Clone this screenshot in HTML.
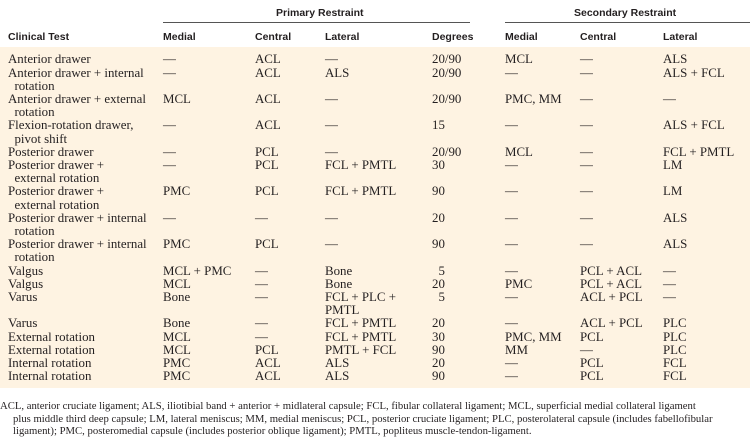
<!DOCTYPE html>
<html><head><meta charset="utf-8"><style>
body{margin:0;width:750px;height:442px;background:#fff;position:relative;overflow:hidden;color:#231f20;font-family:"Liberation Serif",serif}
.h{position:absolute;font-family:"Liberation Sans",sans-serif;font-weight:bold;font-size:10.5px;line-height:12px;white-space:nowrap}
.rule{position:absolute;height:1px;background:#555;top:22px}
.cream{position:absolute;left:0;top:47px;width:750px;height:341px;background:#fef3e2}
table{position:absolute;left:8px;top:53.4px;border-collapse:collapse;font-size:12.9px;line-height:13.2px}
td{padding:0;vertical-align:top;white-space:nowrap}
.fn{position:absolute;left:0;top:400px;width:750px;font-size:10.7px;line-height:12.5px;white-space:nowrap}
.fn div{padding-left:13px}
.fn div:first-child{padding-left:0}
</style></head><body>
<div class="cream"></div>
<div class="h" style="left:276px;top:7px">Primary Restraint</div>
<div class="h" style="left:574px;top:7px">Secondary Restraint</div>
<div class="rule" style="left:163px;width:307px"></div>
<div class="rule" style="left:505px;width:245px"></div>
<div class="h" style="left:8px;top:31px">Clinical Test</div>
<div class="h" style="left:163px;top:31px">Medial</div>
<div class="h" style="left:255px;top:31px">Central</div>
<div class="h" style="left:325px;top:31px">Lateral</div>
<div class="h" style="left:432px;top:31px">Degrees</div>
<div class="h" style="left:505px;top:31px">Medial</div>
<div class="h" style="left:580px;top:31px">Central</div>
<div class="h" style="left:663px;top:31px">Lateral</div>
<table>
<colgroup><col style="width:155px"><col style="width:92px"><col style="width:70px"><col style="width:107px"><col style="width:73px"><col style="width:75px"><col style="width:83px"><col style="width:87px"></colgroup>
<tr><td>Anterior drawer</td><td>—</td><td>ACL</td><td>—</td><td>20/90</td><td>MCL</td><td>—</td><td>ALS</td></tr>
<tr><td>Anterior drawer + internal<br>&nbsp;&nbsp;rotation</td><td>—</td><td>ACL</td><td>ALS</td><td>20/90</td><td>—</td><td>—</td><td>ALS + FCL</td></tr>
<tr><td>Anterior drawer + external<br>&nbsp;&nbsp;rotation</td><td>MCL</td><td>ACL</td><td>—</td><td>20/90</td><td>PMC, MM</td><td>—</td><td>—</td></tr>
<tr><td>Flexion-rotation drawer,<br>&nbsp;&nbsp;pivot shift</td><td>—</td><td>ACL</td><td>—</td><td>15</td><td>—</td><td>—</td><td>ALS + FCL</td></tr>
<tr><td>Posterior drawer</td><td>—</td><td>PCL</td><td>—</td><td>20/90</td><td>MCL</td><td>—</td><td>FCL + PMTL</td></tr>
<tr><td>Posterior drawer +<br>&nbsp;&nbsp;external rotation</td><td>—</td><td>PCL</td><td>FCL + PMTL</td><td>30</td><td>—</td><td>—</td><td>LM</td></tr>
<tr><td>Posterior drawer +<br>&nbsp;&nbsp;external rotation</td><td>PMC</td><td>PCL</td><td>FCL + PMTL</td><td>90</td><td>—</td><td>—</td><td>LM</td></tr>
<tr><td>Posterior drawer + internal<br>&nbsp;&nbsp;rotation</td><td>—</td><td>—</td><td>—</td><td>20</td><td>—</td><td>—</td><td>ALS</td></tr>
<tr><td>Posterior drawer + internal<br>&nbsp;&nbsp;rotation</td><td>PMC</td><td>PCL</td><td>—</td><td>90</td><td>—</td><td>—</td><td>ALS</td></tr>
<tr><td>Valgus</td><td>MCL + PMC</td><td>—</td><td>Bone</td><td>&nbsp;&nbsp;5</td><td>—</td><td>PCL + ACL</td><td>—</td></tr>
<tr><td>Valgus</td><td>MCL</td><td>—</td><td>Bone</td><td>20</td><td>PMC</td><td>PCL + ACL</td><td>—</td></tr>
<tr><td>Varus</td><td>Bone</td><td>—</td><td>FCL + PLC +<br>PMTL</td><td>&nbsp;&nbsp;5</td><td>—</td><td>ACL + PCL</td><td>—</td></tr>
<tr><td>Varus</td><td>Bone</td><td>—</td><td>FCL + PMTL</td><td>20</td><td>—</td><td>ACL + PCL</td><td>PLC</td></tr>
<tr><td>External rotation</td><td>MCL</td><td>—</td><td>FCL + PMTL</td><td>30</td><td>PMC, MM</td><td>PCL</td><td>PLC</td></tr>
<tr><td>External rotation</td><td>MCL</td><td>PCL</td><td>PMTL + FCL</td><td>90</td><td>MM</td><td>—</td><td>PLC</td></tr>
<tr><td>Internal rotation</td><td>PMC</td><td>ACL</td><td>ALS</td><td>20</td><td>—</td><td>PCL</td><td>FCL</td></tr>
<tr><td>Internal rotation</td><td>PMC</td><td>ACL</td><td>ALS</td><td>90</td><td>—</td><td>PCL</td><td>FCL</td></tr>
</table>
<div class="fn">
<div>ACL, anterior cruciate ligament; ALS, iliotibial band + anterior + midlateral capsule; FCL, fibular collateral ligament; MCL, superficial medial collateral ligament</div>
<div>plus middle third deep capsule; LM, lateral meniscus; MM, medial meniscus; PCL, posterior cruciate ligament; PLC, posterolateral capsule (includes fabellofibular</div>
<div>ligament); PMC, posteromedial capsule (includes posterior oblique ligament); PMTL, popliteus muscle-tendon-ligament.</div>
</div>
</body></html>
